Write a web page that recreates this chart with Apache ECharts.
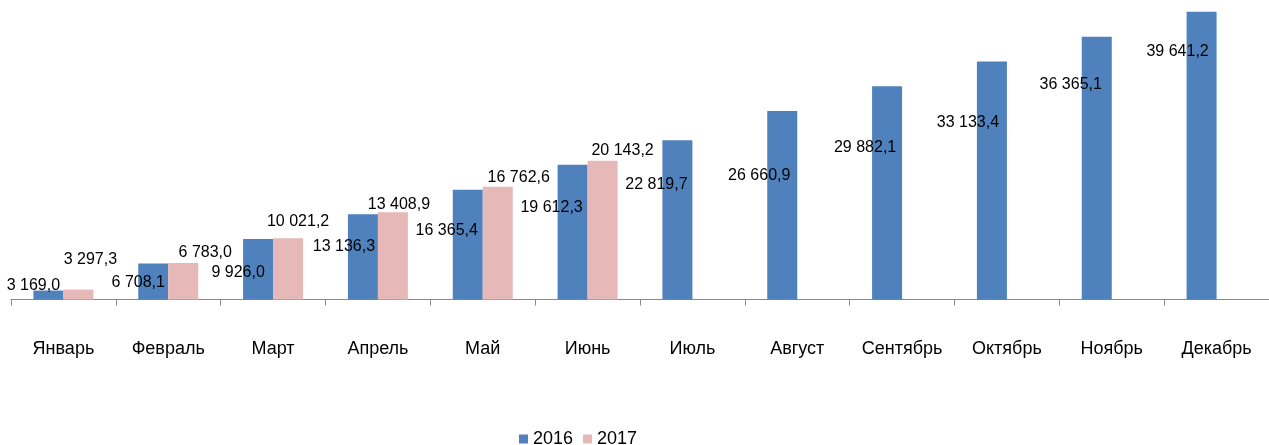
<!DOCTYPE html>
<html>
<head>
<meta charset="utf-8">
<script src="https://cdn.jsdelivr.net/npm/echarts@6/dist/echarts.min.js"></script>
<style>
  html, body { margin: 0; padding: 0; background: #fff; }
  #chart { width: 1269px; height: 445px; }
</style>
</head>
<body>
<div id="chart"></div>
<script>
// данные
const months = ['Январь', 'Февраль', 'Март', 'Апрель', 'Май', 'Июнь',
  'Июль', 'Август', 'Сентябрь', 'Октябрь', 'Ноябрь', 'Декабрь'];
const values2016 = [3169.0, 6708.1, 9926.0, 13136.3, 16365.4, 19612.3,
  22819.7, 26660.9, 29882.1, 33133.4, 36365.1, 39641.2];
const values2017 = [3297.3, 6783.0, 10021.2, 13408.9, 16762.6, 20143.2];
const seriesNames = ['2016', '2017'];

// сдвиги подписей относительно верха столбца (как в исходной диаграмме)
const labelShift2016 = [[-15, -5], [-15, 19], [-20, 34], [-19, 32], [-21, 41], [-21, 43],
  [-21, 44], [-23, 65], [-22, 61], [-24, 61], [-26, 48], [-24, 40]];
const labelShift2017 = [[12, -30], [22, -10], [10, -17], [6, -8], [21, -9], [20, -10]];

const fmt = v => {
  const parts = v.toFixed(1).split('.');
  return parts[0].replace(/\B(?=(\d{3})+(?!\d))/g, ' ') + ',' + parts[1];
};

const font = '"Liberation Sans", Arial, sans-serif';

const labelBase = {
  show: true,
  position: 'top',
  distance: 0,
  align: 'center',
  verticalAlign: 'middle',
  fontSize: 16,
  fontFamily: font,
  color: '#000',
  formatter: p => fmt(p.value)
};

const myChart = echarts.init(document.getElementById('chart'));
myChart.setOption({
  animation: false,
  textStyle: { fontFamily: font },
  grid: { left: 11, width: 1260, top: 9, height: 290.5 },
  legend: {
    left: 514,
    top: 425,
    itemWidth: 9,
    itemHeight: 9,
    itemGap: 10,
    icon: 'rect',
    textStyle: { fontSize: 18, color: '#000', fontFamily: font },
    data: seriesNames
  },
  xAxis: {
    type: 'category',
    data: months,
    axisLine: { lineStyle: { color: '#898989', width: 1 } },
    axisTick: { show: true, length: 6, lineStyle: { color: '#898989' } },
    axisLabel: { margin: 41, fontSize: 18, color: '#000', fontFamily: font, interval: 0 }
  },
  yAxis: {
    type: 'value',
    min: 2000,
    max: 40000,
    show: false,
    splitLine: { show: false }
  },
  series: [
    {
      name: seriesNames[0],
      type: 'bar',
      barWidth: 30,
      barGap: '0%',
      itemStyle: { color: '#4F81BD' },
      label: labelBase,
      data: values2016.map((v, i) => ({ value: v, label: { offset: labelShift2016[i] } }))
    },
    {
      name: seriesNames[1],
      type: 'bar',
      barWidth: 30,
      barGap: '0%',
      itemStyle: { color: '#E6B9B8' },
      label: labelBase,
      data: values2017.map((v, i) => ({ value: v, label: { offset: labelShift2017[i] } }))
    }
  ]
});
</script>
</body>
</html>
